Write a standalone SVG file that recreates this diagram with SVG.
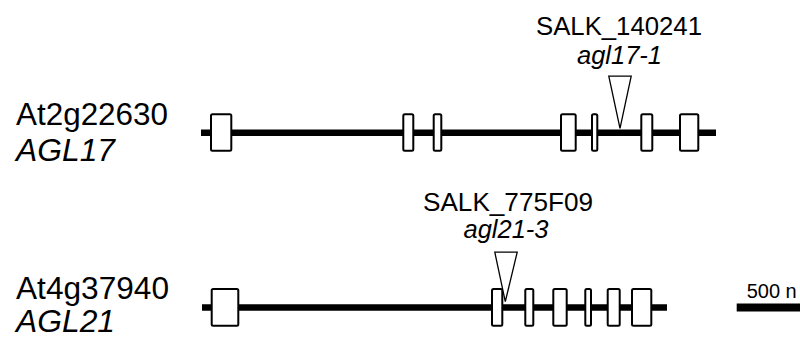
<svg xmlns="http://www.w3.org/2000/svg" width="800" height="338" viewBox="0 0 800 338">
<style>
text{font-family:"Liberation Sans",Arial,sans-serif;fill:#000}
.gene{font-size:31px}
.it{font-style:italic}
.lbl{font-size:26px;text-anchor:middle}
.intron{stroke:#000;stroke-width:6.5;fill:none}
.exon{fill:#fff;stroke:#000;stroke-width:2}
.ins{fill:#fff;stroke:#000;stroke-width:1.3}
</style>
<rect width="800" height="338" fill="#fff"/>
<g id="label-AGL17">
<text class="gene" x="16" y="124.5" textLength="152" lengthAdjust="spacingAndGlyphs">At2g22630</text>
<text class="gene it" x="16" y="160.7" textLength="99" lengthAdjust="spacingAndGlyphs">AGL17</text>
</g>
<g id="label-AGL21">
<text class="gene" x="16" y="299.3" textLength="153" lengthAdjust="spacingAndGlyphs">At4g37940</text>
<text class="gene it" x="16" y="331.5" textLength="99" lengthAdjust="spacingAndGlyphs">AGL21</text>
</g>
<g id="connectors">
<line class="intron" x1="201" y1="132.7" x2="716" y2="132.7"/>
<line class="intron" x1="202" y1="307.5" x2="667" y2="307.5"/>
</g>
<g id="gene-AGL17">
<rect class="exon" x="211" y="114.3" width="20.3" height="36.4" rx="1.5"/>
<rect class="exon" x="403.3" y="114.3" width="10" height="36.4" rx="1.5"/>
<rect class="exon" x="433.7" y="114.3" width="7.6" height="36.4" rx="1.5"/>
<rect class="exon" x="561" y="114.3" width="14.7" height="36.4" rx="1.5"/>
<rect class="exon" x="592" y="114.3" width="5.3" height="36.4" rx="1.5"/>
<rect class="exon" x="641.3" y="114.3" width="11" height="36.4" rx="1.5"/>
<rect class="exon" x="680" y="114.3" width="18.3" height="36.4" rx="1.5"/>
</g>
<g id="gene-AGL21">
<rect class="exon" x="211.7" y="289" width="26.6" height="36.7" rx="1.5"/>
<rect class="exon" x="492" y="289" width="10.3" height="36.7" rx="1.5"/>
<rect class="exon" x="525.3" y="289" width="8" height="36.7" rx="1.5"/>
<rect class="exon" x="553.3" y="289" width="13.4" height="36.7" rx="1.5"/>
<rect class="exon" x="585.3" y="289" width="5.7" height="36.7" rx="1.5"/>
<rect class="exon" x="607.7" y="289" width="12" height="36.7" rx="1.5"/>
<rect class="exon" x="632" y="289" width="19.3" height="36.7" rx="1.5"/>
</g>
<g id="insertion-agl17-1">
<polygon class="ins" points="608.8,76.2 631.2,76.2 620,128.3"/>
<text class="lbl" x="619" y="35" textLength="166" lengthAdjust="spacingAndGlyphs">SALK_140241</text>
<text class="lbl it" x="619.5" y="63.8" textLength="85" lengthAdjust="spacingAndGlyphs">agl17-1</text>
</g>
<g id="insertion-agl21-3">
<polygon class="ins" points="494.8,252.2 517.2,252.2 505.3,301.7"/>
<text class="lbl" x="508" y="210.7" textLength="170" lengthAdjust="spacingAndGlyphs">SALK_775F09</text>
<text class="lbl it" x="506" y="238.3" textLength="85" lengthAdjust="spacingAndGlyphs">agl21-3</text>
</g>
<g id="scale-bar">
<rect x="736.7" y="303.5" width="64" height="8" fill="#000"/>
<text x="746.7" y="298.3" font-size="20">500 n</text>
</g>
</svg>
